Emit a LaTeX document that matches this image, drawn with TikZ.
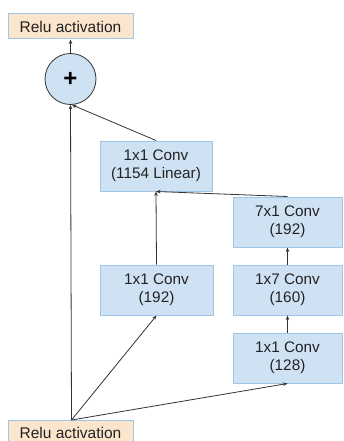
\documentclass[tikz,border=0pt]{standalone}
\usepackage{fontspec}
\setmainfont{Liberation Sans}
\usetikzlibrary{arrows.meta}
\definecolor{boxfill}{HTML}{CFE2F3}
\definecolor{boxline}{HTML}{9FC5E8}
\definecolor{relufill}{HTML}{FCE5CD}
\definecolor{txt}{HTML}{222222}
\definecolor{edge}{HTML}{333333}
\tikzset{
  convbox/.style={draw=boxline, line width=1pt, fill=boxfill, inner sep=0pt, minimum height=50pt, align=center, text=txt, font=\fontsize{15.3pt}{18.3pt}\selectfont},
  relubox/.style={draw=boxline, line width=1pt, fill=relufill, inner sep=0pt, minimum width=125pt, minimum height=25pt, text=txt, font=\fontsize{15.5pt}{18pt}\selectfont},
  sumnode/.style={circle, draw=edge, line width=0.8pt, fill=boxfill, minimum size=51pt, inner sep=0pt, font=\fontsize{24pt}{26pt}\selectfont\bfseries},
  conn/.style={draw=edge, line width=0.8pt, -{Stealth[length=4.5pt,width=3.5pt]}}
}
\begin{document}
\begin{tikzpicture}[x=1pt,y=-1pt]
\useasboundingbox (0,0) rectangle (343,441);
\node[relubox] (top) at (70.5,26.5) {Relu activation};
\node[sumnode] (sum) at (70.5,79) {+};
\node[convbox, minimum width=112pt] (lin) at (156,166) {1x1 Conv\\(1154 Linear)};
\node[convbox, minimum width=109pt] (sevenone) at (287.5,222) {7x1 Conv\\(192)};
\node[convbox, minimum width=113pt] (oneone) at (156.5,290) {1x1 Conv\\(192)};
\node[convbox, minimum width=109pt] (oneseven) at (287.5,290) {1x7 Conv\\(160)};
\node[convbox, minimum width=109pt] (onetwoeight) at (287.5,358) {1x1 Conv\\(128)};
\node[relubox] (bot) at (70.5,433) {Relu activation};
\coordinate (src) at ([xshift=1pt]bot.north);
\draw[conn] (sum.north) -- (top.south);
\draw[conn] (src) -- (sum.south);
\draw[conn] (lin.north) -- ([xshift=1.5pt]sum.south);
\draw[conn] (oneone.north) -- (lin.south);
\draw[conn] (sevenone.north) -- (lin.south);
\draw[conn] (oneseven.north) -- (sevenone.south);
\draw[conn] (onetwoeight.north) -- (oneseven.south);
\draw[conn] (src) -- (oneone.south);
\draw[conn] (src) -- (onetwoeight.south);
\end{tikzpicture}
\end{document}
